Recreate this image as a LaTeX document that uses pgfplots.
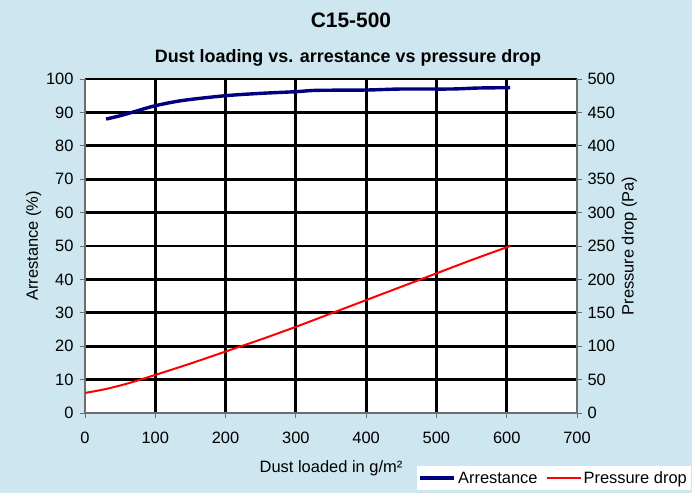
\documentclass[border=0pt]{standalone}
\usepackage{pgfplots}
\pgfplotsset{compat=1.18}
\usepackage{fontspec}
\setmainfont{Liberation Sans}
\definecolor{bgblue}{RGB}{205,230,240}
\definecolor{arrblue}{RGB}{0,0,128}
\definecolor{axgray}{RGB}{110,110,110}

\begin{document}
\begin{tikzpicture}
\fill[bgblue] (0,0) rectangle (692bp,493bp);
\node[font=\bfseries\fontsize{21}{24}\selectfont] at (351bp,473bp) {C15-500};
\node[font=\bfseries\fontsize{18}{21}\selectfont] at (348bp,435bp) {Dust loading vs. arrestance vs pressure drop};

\pgfplotsset{
  common/.style={
    at={(85bp,80bp)}, anchor=south west,
    width=492bp, height=334bp, scale only axis,
    xmin=0, xmax=700,
    /pgf/number format/assume math mode=true,
    tick label style={font=\fontsize{16.5}{19}\selectfont},
    label style={font=\fontsize{16.5}{19}\selectfont},
    tick align=outside, major tick length=5bp,
    tick style={axgray, line width=0.9bp},
    axis line style={axgray, line width=1.2bp},
  }
}

\begin{axis}[common,
  axis x line*=bottom, axis y line*=left,
  axis background/.style={fill=white},
  ymin=0, ymax=100,
  xtick={0,100,...,700}, ytick={0,10,...,100},
  minor xtick={100,200,...,600}, minor ytick={10,20,...,100},
  minor tick length=0pt,
  grid=minor, minor grid style={black, line width=2.9bp},
  xlabel={Dust loaded in g/m²},
  ylabel={Arrestance (\%)},
  xticklabel style={yshift=-11bp},
  yticklabel style={xshift=-3bp},
  xlabel style={yshift=-10bp},
  ylabel style={yshift=-2bp},
  legend columns=2,
  legend cell align=left,
  legend style={at={(1.2317,-0.2305)}, anchor=south east, draw=none, fill=white,
    font=\fontsize{16.5}{19}\selectfont, inner xsep=2bp, inner ysep=3bp,
    /tikz/every odd column/.append style={column sep=0bp},
    /tikz/every even column/.append style={column sep=6bp}},
  legend image code/.code={\draw[#1] (0bp,0bp) -- (34bp,0bp);},
]
\addplot[arrblue, line width=3.4bp, smooth] coordinates {
  (30,88.0) (50,89.0) (70,90.2) (100,92.0) (140,93.6) (200,95.0)
  (250,95.7) (300,96.2) (330,96.6) (400,96.7) (450,97.0) (520,97.0)
  (560,97.3) (605,97.4)
};
\addlegendentry{Arrestance}
\addlegendimage{red, line width=2bp}
\addlegendentry{Pressure drop}
\end{axis}

\begin{axis}[common,
  axis x line=none, axis y line*=right,
  ymin=0, ymax=500,
  ytick={0,50,...,500},
  yticklabel style={xshift=2bp},
  ylabel={Pressure drop (Pa)},
]
\addplot[red, line width=2bp, smooth] coordinates {
  (0,30) (30,36) (60,44) (100,57) (150,74) (200,92) (250,110)
  (300,129) (350,149) (400,169) (450,189) (500,209) (550,229) (605,250)
};
\end{axis}
\end{tikzpicture}
\end{document}
